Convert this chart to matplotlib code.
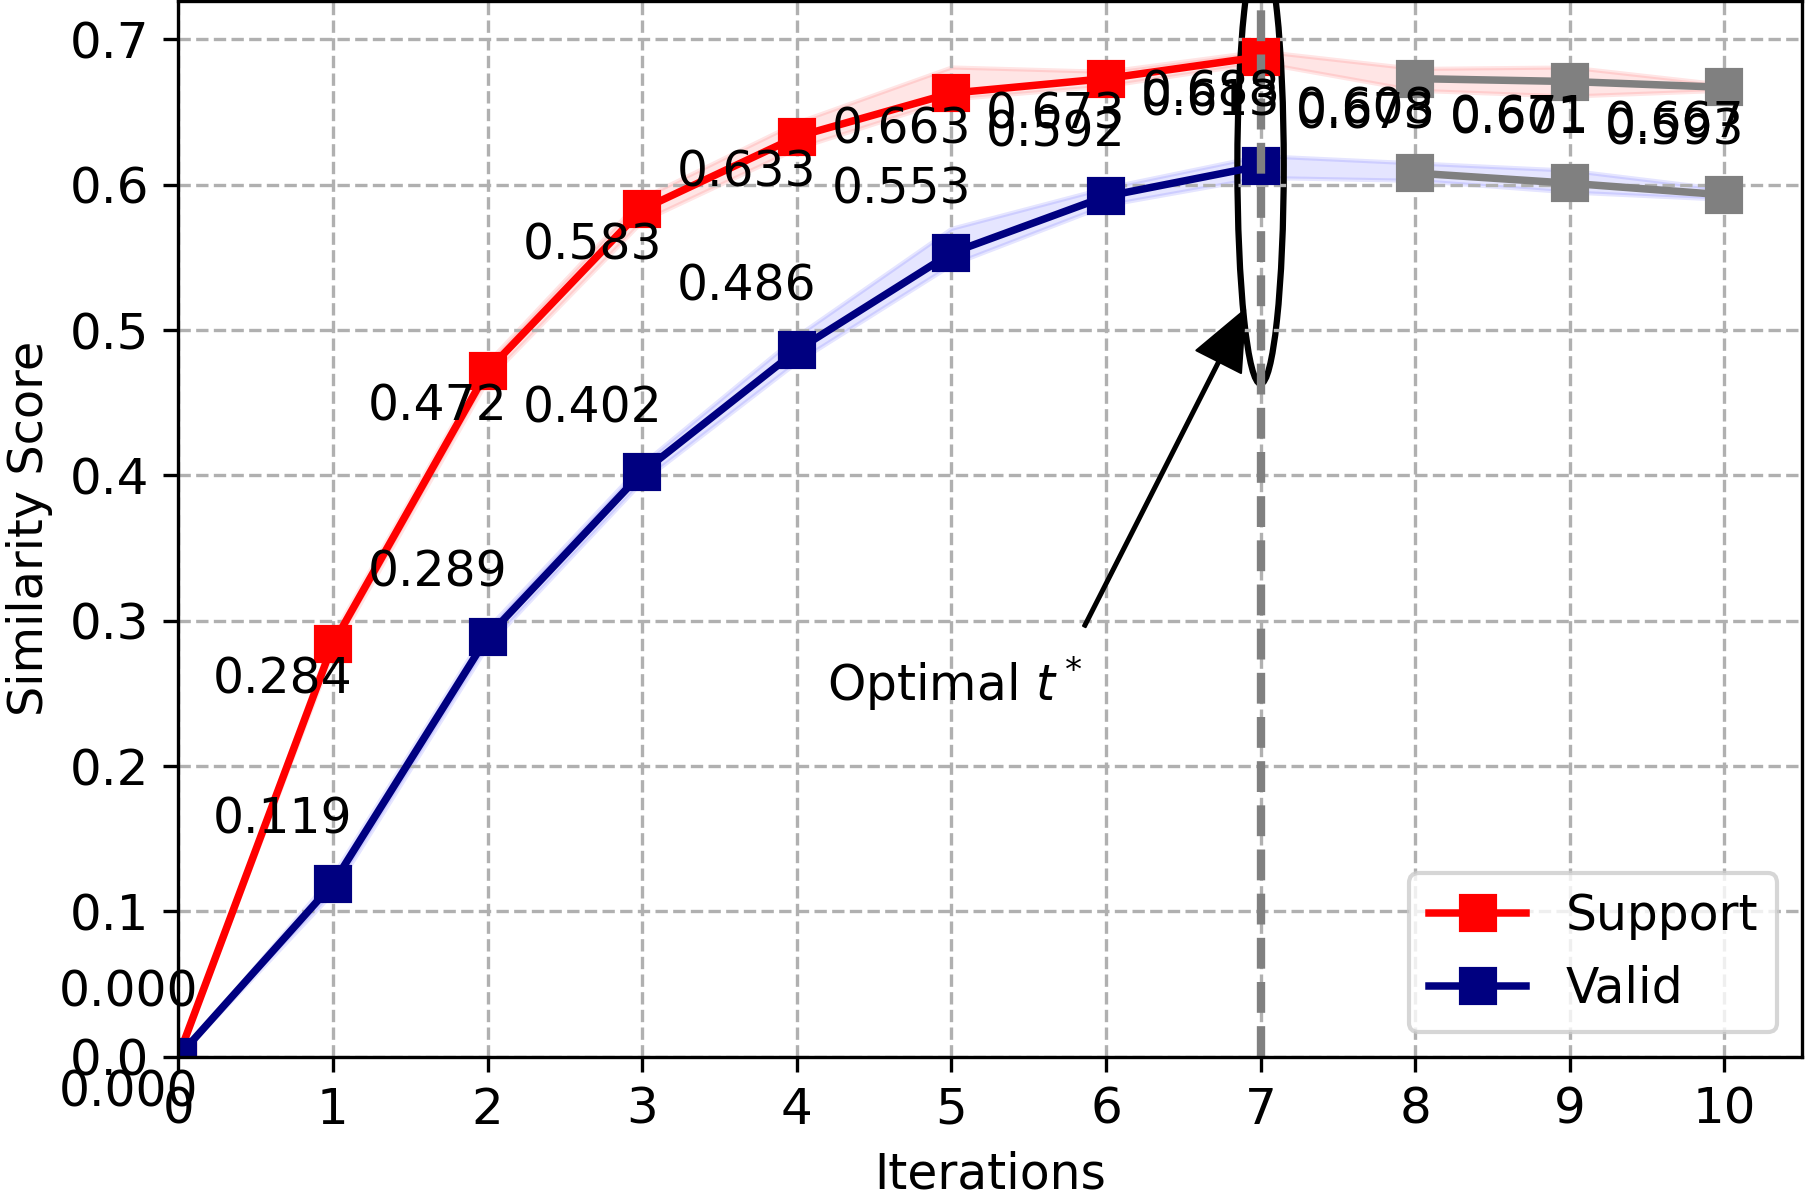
import matplotlib
matplotlib.use("Agg")
import matplotlib.pyplot as plt
from matplotlib.patches import Ellipse
import numpy as np

iterations = [0, 1, 2, 3, 4, 5, 6, 7, 8, 9, 10]
support = [0.000, 0.284, 0.472, 0.583, 0.633, 0.663, 0.673, 0.688, 0.673, 0.671, 0.667]
valid = [0.000, 0.119, 0.289, 0.402, 0.486, 0.553, 0.592, 0.613, 0.608, 0.601, 0.593]
support_lo = [0.000, 0.279, 0.466, 0.575, 0.625, 0.659, 0.668, 0.684, 0.665, 0.661, 0.665]
support_hi = [0.000, 0.290, 0.478, 0.591, 0.643, 0.681, 0.678, 0.692, 0.680, 0.681, 0.669]
valid_lo = [0.000, 0.113, 0.283, 0.396, 0.478, 0.545, 0.586, 0.605, 0.603, 0.595, 0.590]
valid_hi = [0.000, 0.125, 0.295, 0.408, 0.496, 0.570, 0.598, 0.620, 0.615, 0.610, 0.597]
optimal_t = 7
xticks = list(range(0, 11))
yticks = [0.0, 0.1, 0.2, 0.3, 0.4, 0.5, 0.6, 0.7]

plt.rcParams['font.family'] = ['DejaVu Sans']
plt.rcParams['font.size'] = 11.5

fig = plt.figure(figsize=(1805 / 300, 1204 / 300), dpi=300)
ax = fig.add_axes([178.3 / 1805, 1 - 1056.7 / 1204, (1801.7 - 178.3) / 1805, (1056.7 - 1.0) / 1204])

x = np.array(iterations)
s = np.array(support)
v = np.array(valid)
k = iterations.index(optimal_t)

ax.fill_between(x, support_lo, support_hi, color='red', alpha=0.1, lw=1)
ax.fill_between(x, valid_lo, valid_hi, color='blue', alpha=0.1, lw=1)

ax.plot(x[:k + 1], s[:k + 1], color='red', marker='s', markersize=8, lw=1.8, label='Support')
ax.plot(x[:k + 1], v[:k + 1], color='navy', marker='s', markersize=8, lw=1.8, label='Valid')
ax.plot(x[k + 1:], s[k + 1:], color='gray', marker='s', markersize=8, lw=1.8)
ax.plot(x[k + 1:], v[k + 1:], color='gray', marker='s', markersize=8, lw=1.8)

for xi, yi in zip(x, s):
    ax.annotate(f'{yi:.3f}', (xi, yi), xytext=(-12, -12), textcoords='offset points',
                ha='center', fontsize=11.7)
for xi, yi in zip(x, v):
    ax.annotate(f'{yi:.3f}', (xi, yi), xytext=(-12, 12), textcoords='offset points',
                ha='center', fontsize=11.7)

ax.axvline(optimal_t, color='gray', linestyle='--', lw=2.0)
ax.add_patch(Ellipse((optimal_t, valid[k]), width=0.3, height=0.3, fill=False,
                     edgecolor='black', lw=1.5))
ax.annotate('', xy=(6.9, 0.514), xytext=(5.86, 0.296),
            arrowprops=dict(facecolor='black', edgecolor='black', linewidth=0.5,
                            width=0.7, headwidth=12, headlength=14, shrink=0.0))
ax.text(5.02, 0.257, 'Optimal $t^*$', ha='center', va='center', fontsize=11.7)

ax.set_xlim(0, 10.5)
ax.set_ylim(0, 0.7264)
ax.set_xticks(xticks)
ax.set_yticks(yticks)
ax.tick_params(labelsize=12)
ax.set_xlabel('Iterations', fontsize=11.7)
ax.set_ylabel('Similarity Score', fontsize=11.5)
ax.grid(True, linestyle='--', color='#b0b0b0', lw=0.8)
ax.legend(loc='lower right', fontsize=11.7)

fig.savefig('out.png', dpi=300)
